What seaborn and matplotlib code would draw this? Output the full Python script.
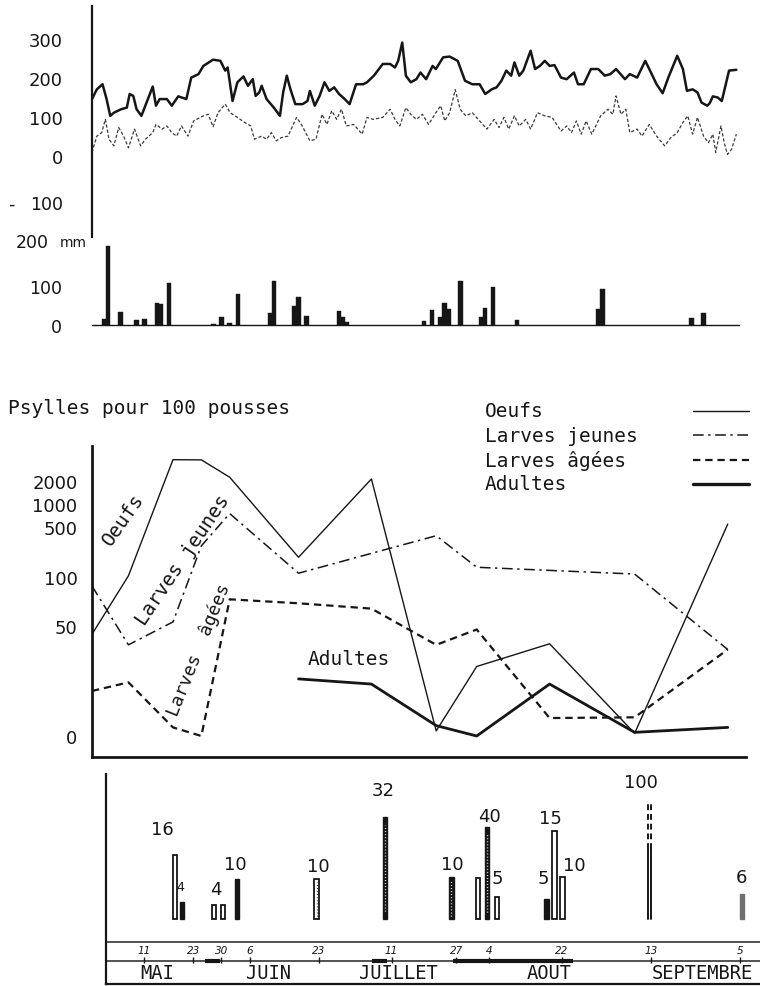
import numpy as np
import matplotlib
matplotlib.use("Agg")
import matplotlib.pyplot as plt
from matplotlib.lines import Line2D
import seaborn as sns

# ---------------- Panel 1 : daily curves (days since start of record) ----------------
temp_solid_day = [0, 1.2, 2.6, 3.6, 4.5, 5.4, 7.2, 8.6, 9.3, 10.2,
                  11, 12.2, 13.8, 15, 15.8, 16.7, 18.5, 19.7, 21.3, 23.3,
                  24.5, 26.3, 27.5, 29.9, 31.7, 32.9, 33.5, 34.7, 35.9, 37.4,
                  38.5, 39.7, 40.4, 41.3, 41.9, 43.1, 44.9, 46.4, 47.2, 48.1,
                  49, 50.2, 52, 53.2, 53.8, 55, 56.2, 57.4, 58.6, 59.8,
                  61, 62.4, 63.6, 65.2, 67, 67.9, 69.6, 71.8, 73.6, 74.8,
                  75.6, 76.6, 77.5, 78.7, 80.1, 81.1, 82.5, 84.1, 84.9, 86.7,
                  88.3, 90.3, 92.1, 93.9, 95.7, 97.1, 98.7, 99.9, 101.1, 102.3,
                  103.5, 104.3, 105.5, 106.5, 108.3, 109.4, 110.6, 111.8, 113, 114.2,
                  115.8, 117.2, 119, 120, 121.4, 123.2, 125, 126.6, 128, 129.4,
                  131.6, 132.8, 134.6, 136.6, 137.6, 139.4, 140.9, 142.3, 144.5, 145.9,
                  146.9, 148.3, 149.5, 150.5, 151.9, 152.5, 153.3, 154.5, 155.5, 157.3,
                  159.1]
temp_solid_val = [146, 171, 184, 146, 103, 111, 120, 124, 159, 154,
                  120, 103, 146, 178, 129, 146, 146, 129, 153, 146,
                  201, 210, 231, 247, 244, 219, 227, 141, 189, 204,
                  180, 197, 154, 163, 180, 146, 124, 103, 163, 206,
                  171, 133, 133, 141, 167, 129, 154, 189, 167, 176,
                  159, 146, 133, 184, 184, 189, 206, 236, 236, 227,
                  244, 291, 206, 189, 197, 214, 197, 231, 223, 253,
                  255, 244, 193, 184, 184, 159, 171, 176, 193, 219,
                  206, 240, 206, 219, 270, 223, 231, 244, 231, 233,
                  201, 197, 214, 184, 184, 223, 223, 206, 210, 223,
                  197, 210, 201, 244, 223, 184, 161, 201, 257, 223,
                  167, 171, 163, 137, 129, 135, 153, 150, 141, 219,
                  221]

temp_dash_day = [0, 1.2, 2.4, 3.3, 4.2, 5.4, 6.6, 7.8, 9, 10.5,
                 12, 13.2, 15, 15.8, 17.3, 18.5, 19.7, 20.9, 22.1, 23.7,
                 25.1, 27.5, 28.7, 29.9, 31.1, 32.9, 34.1, 35.9, 37.7, 39.2,
                 40.1, 41.9, 43.1, 44.3, 45.5, 46.7, 48.4, 50.5, 51.7, 53.8,
                 55.3, 56.8, 58, 59.2, 60.4, 61.6, 62.8, 64.6, 66.7, 67.9,
                 69.4, 71.8, 73.6, 74.8, 76, 77.5, 78.7, 80.1, 81.6, 83.1,
                 84.9, 86.1, 87.1, 88.3, 89.7, 90.9, 92.3, 93.9, 95.7, 97.5,
                 99.3, 100.5, 101.7, 102.9, 104.3, 105.5, 107.1, 108.3, 110, 111.8,
                 113.6, 115.8, 117.2, 118.4, 119.6, 120.8, 122, 123.4, 125.6, 127.4,
                 128.6, 129.4, 130.6, 131.8, 132.8, 134.6, 135.8, 137.6, 139.4, 141.4,
                 142.9, 144.5, 145.9, 147.1, 148.3, 149.5, 151, 152.2, 153.3, 154,
                 155.3, 156.1, 156.9, 157.9, 159.1]
temp_dash_val = [9, 51, 60, 94, 43, 26, 73, 51, 21, 69,
                 26, 43, 60, 81, 69, 77, 60, 51, 77, 51,
                 90, 103, 107, 75, 111, 133, 111, 99, 86, 77,
                 43, 51, 43, 60, 39, 47, 51, 99, 81, 39,
                 43, 107, 81, 116, 94, 120, 77, 81, 56, 99,
                 94, 99, 120, 94, 77, 124, 107, 94, 107, 81,
                 111, 129, 90, 111, 170, 120, 103, 111, 90, 69,
                 94, 73, 99, 69, 103, 77, 94, 69, 111, 103,
                 99, 64, 77, 60, 90, 56, 90, 56, 103, 120,
                 107, 154, 107, 120, 60, 69, 51, 81, 51, 26,
                 47, 60, 86, 103, 56, 99, 51, 34, 56, 9,
                 77, 34, 4, 17, 56]

# ---------------- Panel 2 : rainfall (mm) ----------------
rain_day = [3, 4, 7, 11, 13, 16, 17, 19, 30, 32,
            34, 36, 44, 45, 50, 51, 53, 61, 62, 63,
            82, 84, 86, 87, 88, 91, 96, 97, 99, 105,
            125, 126, 148, 151]
rain_mm = [16, 206, 33, 13, 16, 56, 55, 108, 3, 20,
           4, 80, 30, 113, 50, 73, 24, 37, 20, 7,
           10, 39, 20, 56, 42, 115, 22, 43, 98, 13,
           42, 93, 18, 30]

# ---------------- Panel 3 : Psylles pour 100 pousses ----------------
oeufs_day = [0, 9, 20, 27, 34, 51, 69, 85, 95, 113, 134, 157]
oeufs = [37, 104, 3800, 3780, 2240, 189, 2125, 0.2, 11, 26, 0.1, 547]
ljeunes_day = [0, 9, 20, 27, 34, 51, 85, 95, 134, 157]
ljeunes = [88, 25, 53, 273, 750, 113, 378, 137, 110, 21]
lagees_day = [0, 9, 20, 27, 34, 51, 69, 85, 95, 113, 134, 157]
lagees = [4.0, 5.8, 0.36, 0, 73, 69, 64, 25, 44, 0.9, 0.95, 21]
adultes_day = [51, 69, 85, 95, 113, 134, 157]
adultes = [6.7, 5.4, 0.45, 0, 5.4, 0.14, 0.36]
y3_ticks = [0, 50, 100, 500, 1000, 2000]

# ---------------- Panel 4 : counts per sampling date ----------------
bar_day = [17.5, 19.3, 27.2, 29.4, 32.8, 52.5, 69.4, 85.8,
           92.4, 94.6, 97.0, 109.3, 111.2, 113.2, 134.6, 157.5]
bar_height = [64, 17, 14, 14, 40, 40, 102, 42,
              41, 92, 22, 20, 88, 42, 117, 25]
bar_label = ['16', '4', '4', '', '10', '10', '32', '10',
             '', '40', '5', '5', '15', '10', '100', '6']
bar_kind = ['creux', 'plein', 'creux', 'creux', 'plein', 'creux_pt', 'pointille', 'pointille',
            'creux', 'pointille', 'creux', 'plein', 'creux', 'creux', 'tirets', 'gris']
date_day = [10, 22, 29, 36, 53, 71, 87, 95, 113, 135, 157]
date_label = ['11', '23', '30', '6', '23', '11', '27', '4', '22', '13', '5']
months = ['MAI', 'JUIN', 'JUILLET', 'AOUT', 'SEPTEMBRE']

# ---------------- layout / style ----------------
W, H = 760, 987
INK = '#161616'
MONO = 'DejaVu Sans Mono'
sns.set_theme(style='white')
plt.rcParams['font.family'] = ['DejaVu Sans']
plt.rcParams['text.color'] = INK

fig = plt.figure(figsize=(W / 100, H / 100), dpi=100)
fig.patch.set_facecolor('white')


def add_ax(l, t, r, b):
    ax = fig.add_axes([l / W, 1 - b / H, (r - l) / W, (b - t) / H])
    ax.set_facecolor('none')
    for s in ax.spines.values():
        s.set_visible(False)
    return ax


def fpx(x, y):
    return x / W, 1 - y / H


# ---- panel 1
ax1 = add_ax(92, 7, 740, 178)
sns.lineplot(x=temp_solid_day, y=temp_solid_val, ax=ax1, color=INK, lw=1.8,
             estimator=None, sort=False)
sns.lineplot(x=temp_dash_day, y=temp_dash_val, ax=ax1, color='#3a3a3a', lw=0.9,
             estimator=None, sort=False)
ax1.lines[-1].set_dashes((2.6, 1.6))
ax1.set_xlim(0, 160)
ax1.set_ylim(-53.8, 384.6)
ax1.set_xticks([])
ax1.set_yticks([0, 100, 200, 300])
ax1.tick_params(axis='y', length=0, pad=21, labelsize=13, labelcolor=INK)
ax1.spines['left'].set_visible(True)
ax1.spines['left'].set_color(INK)
ax1.spines['left'].set_linewidth(1.6)
ax1.set_xlabel('')
ax1.set_ylabel('')

# ---- panel 2
ax2 = add_ax(92, 180, 740, 330)
ax2.bar(rain_day, rain_mm, width=1.1, color=INK, edgecolor=INK, linewidth=0.3)
ax2.axhline(0, color=INK, lw=1.0)
ax2.set_xlim(0, 160)
ax2.set_ylim(-10.4, 379.2)
ax2.set_xticks([])
ax2.set_yticks([0, 100])
ax2.tick_params(axis='y', length=0, pad=21.5, labelsize=12.5, labelcolor=INK)
ax2.spines['left'].set_visible(True)
ax2.spines['left'].set_color(INK)
ax2.spines['left'].set_linewidth(1.6)
ax2.spines['left'].set_bounds(228, 379.2)
yax = ('axes fraction', 'data')
ax2.annotate('200', xy=(0, 215), xycoords=yax, xytext=(-43, 0), textcoords='offset pixels',
             ha='right', va='center', fontsize=12.5)
ax2.annotate('mm', xy=(0, 215), xycoords=yax, xytext=(-5, 0), textcoords='offset pixels',
             ha='right', va='center', fontsize=10)
ax2.annotate('100', xy=(0, 314), xycoords=yax, xytext=(-29, 0), textcoords='offset pixels',
             ha='right', va='center', fontsize=12.5)
ax2.annotate('-', xy=(0, 314), xycoords=yax, xytext=(-84, 0), textcoords='offset pixels',
             ha='left', va='center', fontsize=12.5)

# ---- panel 3 (broken, log-like hand scale)
U_ANCH = np.log10(np.array(y3_ticks, float) + 1)
P_ANCH = np.array([0, 110, 159, 209, 232, 255], float)


def _interp_ext(x, xp, fp):
    x = np.asarray(x, float)
    y = np.interp(x, xp, fp)
    lo_s = (fp[1] - fp[0]) / (xp[1] - xp[0])
    hi_s = (fp[-1] - fp[-2]) / (xp[-1] - xp[-2])
    y = np.where(x < xp[0], fp[0] + (x - xp[0]) * lo_s, y)
    y = np.where(x > xp[-1], fp[-1] + (x - xp[-1]) * hi_s, y)
    return y


def fwd(v):
    v = np.clip(np.asarray(v, float), -0.999, None)
    return _interp_ext(np.log10(v + 1), U_ANCH, P_ANCH)


def inv(p):
    return 10 ** _interp_ext(p, P_ANCH, U_ANCH) - 1


ax3 = add_ax(92, 447, 746, 758)
sns.lineplot(x=oeufs_day, y=oeufs, ax=ax3, color=INK, lw=1.0, estimator=None, sort=False)
sns.lineplot(x=ljeunes_day, y=ljeunes, ax=ax3, color=INK, lw=1.1, estimator=None, sort=False)
ax3.lines[-1].set_dashes((7, 3, 1.5, 3))
sns.lineplot(x=lagees_day, y=lagees, ax=ax3, color=INK, lw=1.6, estimator=None, sort=False)
ax3.lines[-1].set_dashes((3.3, 2.2))
sns.lineplot(x=adultes_day, y=adultes, ax=ax3, color=INK, lw=2.0, estimator=None, sort=False)
ax3.set_yscale('function', functions=(fwd, inv))
ax3.set_xlim(0, 161.5)
ax3.set_ylim(float(inv(-21)), float(inv(290)))
ax3.set_xticks([])
ax3.set_yticks(y3_ticks)
ax3.set_yticklabels([str(t) for t in y3_ticks])
ax3.yaxis.set_minor_locator(matplotlib.ticker.NullLocator())
ax3.tick_params(axis='y', which='both', length=0, pad=10.5, labelsize=13, labelcolor=INK)
for s in ('left', 'bottom'):
    ax3.spines[s].set_visible(True)
    ax3.spines[s].set_color(INK)
    ax3.spines[s].set_linewidth(2.0)
ax3.set_xlabel('')
ax3.set_ylabel('')

fig.text(*fpx(8, 409), 'Psylles pour 100 pousses', family=MONO, fontsize=14,
         ha='left', va='center')
fig.text(*fpx(123, 520), 'Oeufs', family=MONO, fontsize=14, rotation=55,
         rotation_mode='anchor', ha='center', va='center')
fig.text(*fpx(183, 560), 'Larves jeunes', family=MONO, fontsize=14, rotation=56,
         rotation_mode='anchor', ha='center', va='center')
fig.text(*fpx(199, 650), 'Larves  âgées', family=MONO, fontsize=13, rotation=68,
         rotation_mode='anchor', ha='center', va='center')
fig.text(*fpx(349, 660), 'Adultes', family=MONO, fontsize=14, ha='center', va='center')

# legend (text left, line sample right)
leg_items = [('Oeufs', dict(lw=1.0)),
             ('Larves jeunes', dict(lw=1.1, dashes=(7, 3, 1.5, 3))),
             ('Larves âgées', dict(lw=1.6, dashes=(3.3, 2.2))),
             ('Adultes', dict(lw=2.4))]
for i, (lab, kw) in enumerate(leg_items):
    yy = 412 + i * 24.3
    fig.text(*fpx(485, yy), lab, family=MONO, fontsize=14, ha='left', va='center')
    x0, y0 = fpx(693, yy)
    x1, _ = fpx(749, yy)
    fig.add_artist(Line2D([x0, x1], [y0, y0], color=INK, transform=fig.transFigure, **kw))

# ---- panel 4
ax4 = add_ax(106, 775, 760, 985)
ax4.set_xlim(0.494, 161.98)
ax4.set_ylim(-65, 145)
label_off = [(-12, 26), (-2, 15), (2, 16), (0, 0), (-2, 15), (2, 13), (-2, 27), (1, 13),
             (0, 0), (2, 11), (0, 19), (-3, 21), (-4, 13), (12, 12), (-8, 20), (0, 17)]
bw = 1.1
for d, h, lab, kind, off in zip(bar_day, bar_height, bar_label, bar_kind, label_off):
    if kind in ('plein', 'pointille'):
        ax4.bar(d, h, width=bw, color=INK, edgecolor=INK, lw=1.0)
        if kind == 'pointille':
            ax4.plot([d, d], [h * 0.08, h * 0.92], color='white', lw=1.0,
                     linestyle=(0, (0.6, 1.6)))
    elif kind == 'gris':
        ax4.bar(d, h, width=bw, color='#6f6f6f', edgecolor='#6f6f6f', lw=1.0)
    elif kind == 'tirets':
        half = bw * 0.35
        for xx in (d - half, d + half):
            ax4.plot([xx, xx], [0, h * 0.6], color=INK, lw=1.4)
            ax4.plot([xx, xx], [h * 0.6, h], color=INK, lw=1.4, linestyle=(0, (3, 2)))
    else:
        ax4.bar(d, h, width=bw, facecolor='white', edgecolor=INK, lw=1.3)
        if kind == 'creux_pt':
            ax4.plot([d, d], [h * 0.08, h * 0.92], color=INK, lw=1.0,
                     linestyle=(0, (0.6, 1.6)))
    if lab:
        fs = 9 if (lab == '4' and kind == 'plein') else 13
        ax4.annotate(lab, xy=(d, h), xytext=off, textcoords='offset pixels',
                     ha='center', va='center', fontsize=fs)

# date axis
ax4.plot([0.494, 161.98], [-23, -23], color='#444', lw=1.3)
ax4.plot([0.494, 161.98], [-42, -42], color='#444', lw=1.3)
for a, b in [(24.9, 28.6), (66.2, 69.9), (86.2, 115.8)]:
    ax4.plot([a, b], [-42, -42], color=INK, lw=3.0, solid_capstyle='butt')
ax4.vlines(date_day, -44, -38, color=INK, lw=1.0)
for d, lab in zip(date_day, date_label):
    ax4.text(d, -31.5, lab, fontsize=7.5, style='italic', ha='center', va='center')
month_pos = [13, 40.5, 72.8, 110, 147.7]
for m, p in zip(months, month_pos):
    ax4.text(p, -53.5, m, family=MONO, fontsize=13.5, ha='center', va='center')
ax4.set_xticks([])
ax4.set_yticks([])
for s in ('left', 'bottom'):
    ax4.spines[s].set_visible(True)
    ax4.spines[s].set_color(INK)
    ax4.spines[s].set_linewidth(1.6)

fig.savefig('out.png', dpi=100, facecolor='white')
